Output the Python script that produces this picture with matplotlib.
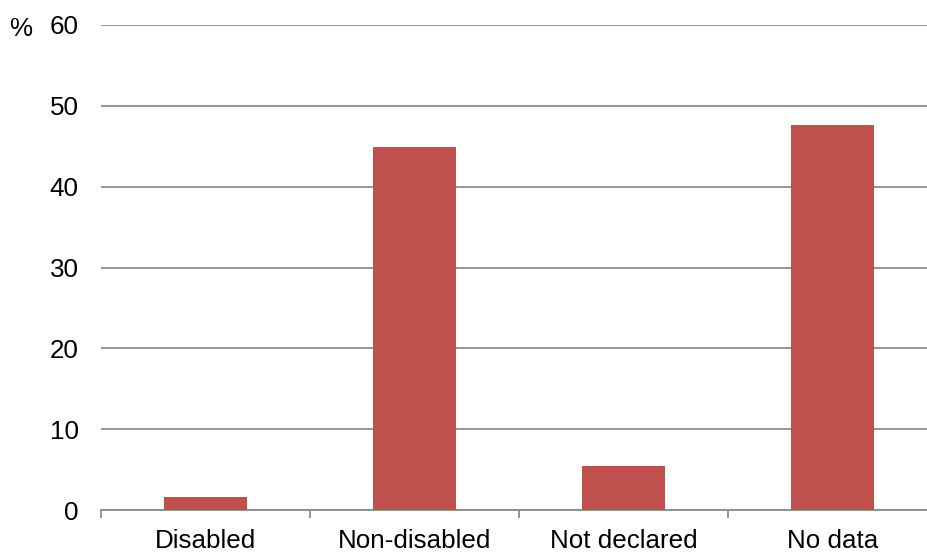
import matplotlib.pyplot as plt
import numpy as np

plt.rcParams['font.family'] = ['Liberation Sans', 'DejaVu Sans']

categories = ["Disabled", "Non-disabled", "Not declared", "No data"]
values = [1.6, 44.9, 5.4, 47.6]

bar_color = "#C0504D"
grid_color = "#8C8C8C"

fig = plt.figure(figsize=(9.28, 5.52), dpi=100)
ax = fig.add_axes([101 / 928, 1 - 510 / 552, 836 / 928, 485 / 552])

x = np.arange(len(categories))
ax.bar(x, values, width=0.4, color=bar_color, zorder=3)

ax.set_xlim(-0.5, len(categories) - 0.5)
ax.set_ylim(0, 60)
ax.set_yticks(range(0, 61, 10))
ax.yaxis.grid(True, color=grid_color, linewidth=1.3, zorder=0)

ax.set_xticks(x)
ax.set_xticklabels(categories)
ax.set_xticks(np.arange(-0.5, len(categories)), minor=True)
ax.tick_params(axis="x", which="major", length=0, pad=13.5, labelsize=18.7)
ax.tick_params(axis="x", which="minor", length=6, color=grid_color, width=1.3, direction="out")
ax.tick_params(axis="y", length=0, pad=16, labelsize=18.7)

for s in ["top", "right", "left"]:
    ax.spines[s].set_visible(False)
ax.spines["bottom"].set_color(grid_color)
ax.spines["bottom"].set_linewidth(1.3)

fig.text(21 / 928, 1 - 29 / 552, "%", fontsize=18.7, ha="center", va="center")

fig.savefig("out.png", dpi=100)
